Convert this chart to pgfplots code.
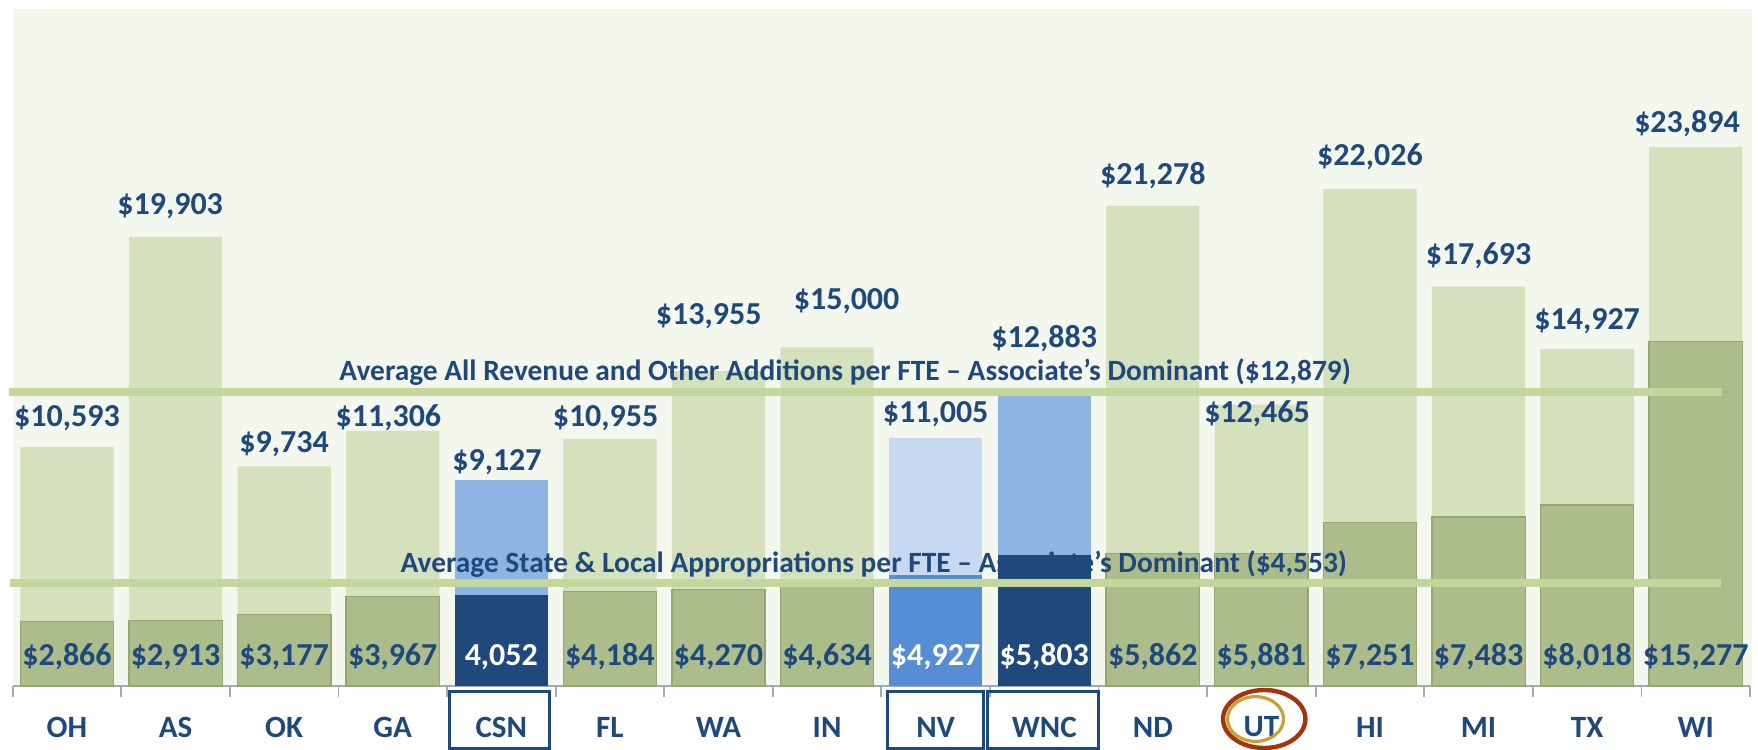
\documentclass[border=0pt]{standalone}
\usepackage{pgfplots}
\pgfplotsset{compat=1.18}
\usepackage{pgfplotstable}
\usepackage{fontspec}
\setmainfont{Carlito}

\definecolor{bgcol}{HTML}{F4F7EE}
\definecolor{lgreen}{HTML}{D5E0BC}
\definecolor{dgreen}{HTML}{ADBC8B}
\definecolor{dgreenb}{HTML}{96A671}
\definecolor{avgline}{HTML}{C3D69B}
\definecolor{navy}{HTML}{1F497D}
\definecolor{lblue}{HTML}{8EB4E3}
\definecolor{vlblue}{HTML}{C6D9F1}
\definecolor{mblue}{HTML}{558ED5}
\definecolor{axisgray}{HTML}{A0AABB}
\definecolor{outring}{HTML}{A0360E}
\definecolor{inring}{HTML}{C9A233}

% green categories: x, total, state
\pgfplotstableread{
x total state
0 10593 2866
1 19903 2913
2 9734 3177
3 11306 3967
5 10955 4184
6 13955 4270
7 15000 4634
10 21278 5862
11 12465 5881
12 22026 7251
13 17693 7483
14 14927 8018
15 23894 15277
}\greendata

% label positions for the totals (lx, ty = centre of the label)
\pgfplotstableread{
lx ty tlab
0 11854 \$10,593
0.95 21279 \$19,903
2 10712 \$9,734
2.96 11903 \$11,306
3.96 9900 \$9,127
4.96 11854 \$10,955
5.91 16367 \$13,955
7.18 17062 \$15,000
8 12053 \$11,005
9 15376 \$12,883
10 22615 \$21,278
10.96 12053 \$12,465
12 23450 \$22,026
13 19050 \$17,693
14 16150 \$14,927
14.92 24900 \$23,894
}\toplabels

\pgfplotstableread{
x sy slab
0 1298 \$2,866
1 1298 \$2,913
2 1298 \$3,177
3 1298 \$3,967
5 1298 \$4,184
6 1298 \$4,270
7 1298 \$4,634
10 1298 \$5,862
11 1298 \$5,881
12 1298 \$7,251
13 1298 \$7,483
14 1298 \$8,018
15 1298 \$15,277
}\inlabels

\pgfplotstableread{
x sy slab
4 1298 4,052
8 1298 \$4,927
9 1298 \$5,803
}\inlabelswhite

\pgfplotsset{
  mybar/.style={ybar, bar width=46.65pt, bar shift=0pt},
}

\begin{document}
\begin{tikzpicture}
\path[use as bounding box] (-6.35pt,-32pt) rectangle (872.65pt,343pt);
\begin{axis}[
  scale only axis,
  width=868.65pt, height=338.5pt,
  xmin=-0.5, xmax=15.5,
  ymin=0, ymax=30000,
  clip=false,
  axis background/.style={fill=bgcol},
  axis x line*=bottom,
  axis y line=none,
  x axis line style={-, draw=axisgray, line width=0.9pt},
  xtick={0,...,15},
  xticklabels={OH,AS,OK,GA,CSN,FL,WA,IN,NV,WNC,ND,UT,HI,MI,TX,WI},
  major tick length=0pt,
  minor xtick={-0.5,0.5,...,15.5},
  minor tick length=5.5pt,
  tick align=outside,
  xtick pos=bottom,
  minor tick style={draw=axisgray, line width=0.9pt},
  xticklabel style={anchor=center, yshift=-20.5pt, text=navy,
    font=\fontsize{15.5}{18}\selectfont\bfseries},
]
% background extension to the right
\fill[bgcol] (rel axis cs:1,0) rectangle ([xshift=1pt]rel axis cs:1,1);

% total bars
\addplot[mybar, fill=lgreen, draw=none] table[x=x, y=total] {\greendata};
\addplot[mybar, fill=lblue, draw=none] coordinates {(4,9127)};
\addplot[mybar, fill=vlblue, draw=none] coordinates {(8,11005)};
\addplot[mybar, fill=lblue, draw=none] coordinates {(9,12883)};

% state bars (green)
\addplot[mybar, fill=dgreen, draw=dgreenb, line width=0.7pt] table[x=x, y=state] {\greendata};

% average labels
\node[anchor=base, text=navy, font=\fontsize{14.7}{17}\selectfont\bfseries]
  at (axis cs:7.167,13558) {Average All Revenue and Other Additions per FTE – Associate’s Dominant (\$12,879)};
\node[anchor=base, text=navy, font=\fontsize{14.7}{17}\selectfont\bfseries]
  at (axis cs:7.43,5051) {Average State \& Local Appropriations per FTE – Associate’s Dominant (\$4,553)};

% special state bars
\addplot[mybar, fill=navy, draw=none] coordinates {(4,4052)};
\addplot[mybar, fill=mblue, draw=none] coordinates {(8,4927)};
\addplot[mybar, fill=navy, draw=none] coordinates {(9,5803)};

% average lines
\addplot[avgline, line width=4pt, mark=none] coordinates {(-0.53,13050) (15.24,13050)};
\addplot[avgline, line width=4pt, mark=none] coordinates {(-0.525,4560) (15.237,4560)};

% value labels
\addplot[draw=none, mark=none, point meta=explicit symbolic,
  nodes near coords,
  every node near coord/.append style={anchor=center, text=navy,
    font=\fontsize{16}{18}\selectfont\bfseries}]
  table[x=lx, y=ty, meta=tlab] {\toplabels};
\addplot[draw=none, mark=none, point meta=explicit symbolic,
  nodes near coords,
  every node near coord/.append style={anchor=center, text=navy,
    font=\fontsize{16}{18}\selectfont\bfseries}]
  table[x=x, y=sy, meta=slab] {\inlabels};
\addplot[draw=none, mark=none, point meta=explicit symbolic,
  nodes near coords,
  every node near coord/.append style={anchor=center, text=white,
    font=\fontsize{16}{18}\selectfont\bfseries}]
  table[x=x, y=sy, meta=slab] {\inlabelswhite};

% boxes around CSN, NV, WNC
\draw[navy, line width=1.5pt] (axis cs:3.527,-222) rectangle (axis cs:4.448,-2748);
\draw[navy, line width=1.5pt] (axis cs:7.559,-222) rectangle (axis cs:8.443,-2748);
\draw[navy, line width=1.5pt] (axis cs:8.48,-222) rectangle (axis cs:9.50,-2748);

% UT rings
\draw[outring, line width=2.2pt] (axis cs:11.026,-1462) ellipse [x radius=20.6pt, y radius=14.5pt];
\draw[inring, line width=1.6pt] (axis cs:10.946,-1462) ellipse [x radius=14pt, y radius=11.2pt];
\end{axis}
\end{tikzpicture}
\end{document}
